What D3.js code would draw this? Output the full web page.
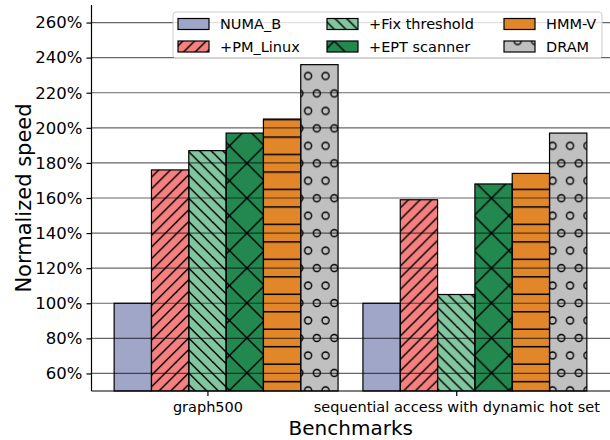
<!DOCTYPE html>
<html>
<head>
<meta charset="utf-8">
<script src="https://cdn.jsdelivr.net/npm/d3@7"></script>
<style>
  body { margin: 0; background: #fff; }
  text { font-family: "DejaVu Sans", sans-serif; fill: #000; }
</style>
</head>
<body>
<div id="chart"></div>
<script>
var width = 610
var height = 440

// data
var benchmarks = ["graph500", "sequential access with dynamic hot set"]
var seriesNames = ["NUMA_B", "+PM_Linux", "+Fix threshold", "+EPT scanner", "HMM-V", "DRAM"]
var graph500 = [1.00, 1.76, 1.87, 1.97, 2.05, 2.36]
var seqHotSet = [1.00, 1.59, 1.05, 1.68, 1.74, 1.97]
var yTicks = [0.6, 0.8, 1.0, 1.2, 1.4, 1.6, 1.8, 2.0, 2.2, 2.4, 2.6]

var colors = ["#a0a6c8", "#f48080", "#82c6a0", "#238850", "#e1872a", "#c0c0c0"]
var hatches = ["none", "ne3", "nw3", "x", "h", "o"]

var margin = {left: 91.5, top: 5, bottom: 391, right: 610}
var barW = 0.15

var svg = d3.select("#chart").append("svg")
    .attr("width", width)
    .attr("height", height)

// hatch patterns (period of matplotlib tile / 3)
var P = 104.8 / 3
var defs = svg.append("defs")
function makePattern(id) {
  return defs.append("pattern")
      .attr("id", id)
      .attr("patternUnits", "userSpaceOnUse")
      .attr("x", 2.4).attr("y", 163.3)
      .attr("width", P).attr("height", P)
}
var hs = {stroke: "#000", "stroke-width": 1.4, fill: "none"}
function styleIt(sel) { for (var k in hs) sel.attr(k, hs[k]); return sel }

var pNE = makePattern("ne3")
for (var k = 0; k <= 6; k++) {
  var c = k * P / 3
  styleIt(pNE.append("line").attr("x1", -P).attr("y1", c + P).attr("x2", c + P).attr("y2", -P))
}
var pNW = makePattern("nw3")
for (var k = -3; k <= 3; k++) {
  var c = k * P / 3
  styleIt(pNW.append("line").attr("x1", -P).attr("y1", c - P).attr("x2", 2 * P).attr("y2", c + 2 * P))
}
var pX = makePattern("x")
styleIt(pX.append("line").attr("x1", -1).attr("y1", -1).attr("x2", P + 1).attr("y2", P + 1))
styleIt(pX.append("line").attr("x1", P + 1).attr("y1", -1).attr("x2", -1).attr("y2", P + 1))
var pH = makePattern("h")
;[P / 4, 3 * P / 4].forEach(function(v) {
  styleIt(pH.append("line").attr("x1", 0).attr("y1", v).attr("x2", P).attr("y2", v))
})
var pO = makePattern("o")
var circ = [[0,0],[P/2,0],[P,0],[0,P],[P/2,P],[P,P],[P/4,P/2],[3*P/4,P/2]]
circ.forEach(function(p) {
  styleIt(pO.append("circle").attr("cx", p[0]).attr("cy", p[1]).attr("r", 3.5))
})

// scales
var x = d3.scaleLinear().domain([-0.466, 1.618]).range([margin.left, margin.right])
var y = d3.scaleLinear().domain([0.5, 2.7]).range([margin.bottom, margin.top])
var bw = x(barW) - x(0)

var table = [graph500, seqHotSet]

// bars
table.forEach(function(vals, g) {
  var grp = svg.append("g")
  grp.selectAll("rect.fill")
      .data(vals)
      .enter()
      .append("rect")
      .attr("x", function(d, i) { return x(g + (i - 2) * barW) - bw / 2 })
      .attr("y", function(d) { return y(d) })
      .attr("width", bw)
      .attr("height", function(d) { return y(0.5) - y(d) })
      .attr("fill", function(d, i) { return colors[i] })
  grp.selectAll("rect.hatch")
      .data(vals)
      .enter()
      .append("rect")
      .attr("x", function(d, i) { return x(g + (i - 2) * barW) - bw / 2 })
      .attr("y", function(d) { return y(d) })
      .attr("width", bw)
      .attr("height", function(d) { return y(0.5) - y(d) })
      .attr("fill", function(d, i) { return hatches[i] == "none" ? "none" : "url(#" + hatches[i] + ")" })
      .attr("stroke", "#000")
      .attr("stroke-width", 1.2)
})

// grid on top of bars
svg.append("g")
    .selectAll("line")
    .data(yTicks)
    .enter()
    .append("line")
    .attr("x1", margin.left).attr("x2", width)
    .attr("y1", function(d) { return y(d) })
    .attr("y2", function(d) { return y(d) })
    .attr("stroke", "#000")
    .attr("stroke-opacity", 0.6)
    .attr("stroke-width", 1.2)

// axes
var yAxis = d3.axisLeft(y)
    .tickValues(yTicks)
    .tickSize(5)
    .tickPadding(4)
    .tickFormat(function(d) { return Math.round(d * 100) + "%" })
var gy = svg.append("g")
    .attr("transform", "translate(" + margin.left + ",0)")
    .call(yAxis)
gy.select(".domain").remove()
gy.selectAll("text").style("font-size", "16.5px").style("font-family", "DejaVu Sans").attr("fill", "#000")
gy.selectAll("line").attr("stroke", "#000").attr("stroke-width", 1.2)

var xAxis = d3.axisBottom(x)
    .tickValues([0, 1])
    .tickSize(5)
    .tickPadding(6)
    .tickFormat(function(d) { return benchmarks[d] })
var gx = svg.append("g")
    .attr("transform", "translate(0," + margin.bottom + ")")
    .call(xAxis)
gx.select(".domain").remove()
gx.selectAll("text").style("font-size", "14.5px").style("font-family", "DejaVu Sans").attr("fill", "#000")
gx.selectAll("line").attr("stroke", "#000").attr("stroke-width", 1.2)

// spines
svg.append("line")
    .attr("x1", margin.left).attr("x2", margin.left)
    .attr("y1", margin.top).attr("y2", margin.bottom)
    .attr("stroke", "#000").attr("stroke-width", 1.2)
svg.append("line")
    .attr("x1", margin.left).attr("x2", width)
    .attr("y1", margin.bottom).attr("y2", margin.bottom)
    .attr("stroke", "#000").attr("stroke-width", 1.2)

// axis labels
svg.append("text")
    .attr("transform", "translate(24," + ((margin.top + margin.bottom) / 2) + ") rotate(-90)")
    .attr("text-anchor", "middle")
    .attr("dominant-baseline", "central")
    .style("font-size", "21px")
    .text("Normalized speed")
svg.append("text")
    .attr("x", (margin.left + margin.right) / 2)
    .attr("y", 435)
    .attr("text-anchor", "middle")
    .style("font-size", "20px")
    .text("Benchmarks")

// legend
var legend = svg.append("g")
legend.append("rect")
    .attr("x", 173).attr("y", 12)
    .attr("width", 429).attr("height", 46)
    .attr("rx", 3)
    .attr("fill", "#fff").attr("fill-opacity", 0.8)
    .attr("stroke", "#ccc").attr("stroke-width", 1)
var colX = [178, 327, 504]
var rowY = [18.5, 41]
seriesNames.forEach(function(name, i) {
  var cx = colX[Math.floor(i / 2)]
  var ry = rowY[i % 2]
  legend.append("rect")
      .attr("x", cx).attr("y", ry)
      .attr("width", 31).attr("height", 11)
      .attr("fill", colors[i])
  legend.append("rect")
      .attr("x", cx).attr("y", ry)
      .attr("width", 31).attr("height", 11)
      .attr("fill", hatches[i] == "none" ? "none" : "url(#" + hatches[i] + ")")
      .attr("stroke", "#000").attr("stroke-width", 1.2)
  legend.append("text")
      .attr("x", cx + 42)
      .attr("y", ry + 5.5)
      .attr("dominant-baseline", "central")
      .style("font-size", "14.5px")
      .text(name)
})
</script>
</body>
</html>
